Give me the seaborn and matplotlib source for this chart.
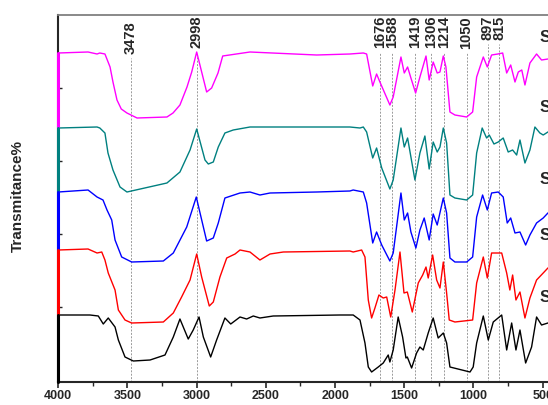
import seaborn as sns
import matplotlib.pyplot as plt
from matplotlib.ticker import MultipleLocator

# wavenumber (cm-1) / transmittance (offset, a.u.)
wn_magenta = [4000, 3785, 3720, 3700, 3663, 3626, 3605, 3576, 3545, 3504, 3431, 3215, 3171, 3121, 3070, 3036, 3000,
              2928, 2892, 2846, 2812, 2615, 2133, 1893, 1796, 1772, 1728, 1700, 1676, 1604, 1580, 1524, 1500, 1476,
              1452, 1418, 1387, 1343, 1320, 1291, 1262, 1242, 1218, 1199, 1170, 1134, 1049, 1006, 977, 929, 900, 869,
              824, 789, 760, 731, 700, 676, 651, 628, 592, 544, 508, 462, 420]
tr_magenta = [329, 330, 328, 329, 328, 315, 300, 282, 273, 269, 264, 265, 269, 277, 295, 310, 330,
              290, 294, 309, 326, 330, 327, 328, 329, 328, 296, 308, 300, 277, 285, 325, 309, 315,
              304, 289, 305, 326, 302, 320, 309, 310, 326, 315, 270, 267, 265, 270, 305, 325, 315, 327,
              328, 329, 309, 317, 300, 310, 312, 297, 319, 328, 322, 323, 323]

wn_teal = [4000, 3720, 3700, 3663, 3641, 3605, 3554, 3504, 3215, 3121, 3048, 3000, 2940, 2916, 2880, 2844, 2796, 2736,
           2615, 1893, 1820, 1796, 1772, 1728, 1700, 1663, 1604, 1580, 1524, 1500, 1476, 1452, 1423, 1387, 1351, 1320,
           1291, 1262, 1242, 1218, 1194, 1170, 1134, 1049, 1006, 977, 937, 905, 886, 852, 821, 785, 749, 717, 688, 664,
           628, 592, 556, 520, 496, 462, 420]
tr_teal = [254, 255, 254, 249, 229, 212, 195, 190, 199, 210, 232, 253, 222, 218, 220, 235, 249, 252,
           255, 255, 254, 255, 250, 224, 234, 214, 193, 202, 254, 235, 244, 225, 202, 229, 246, 213,
           240, 230, 235, 254, 239, 187, 184, 182, 187, 229, 254, 244, 247, 238, 240, 244, 230, 232, 227, 242,
           219, 232, 255, 249, 247, 250, 250]

wn_blue = [4000, 3785, 3720, 3677, 3648, 3614, 3590, 3542, 3470, 3241, 3169, 3072, 3003, 2928, 2880, 2844, 2796, 2687,
           2615, 2543, 2470, 2133, 1893, 1869, 1796, 1772, 1728, 1700, 1663, 1604, 1580, 1524, 1500, 1476, 1452, 1416,
           1387, 1356, 1320, 1291, 1262, 1218, 1194, 1170, 1134, 1049, 1006, 977, 934, 900, 869, 821, 785, 756, 731,
           700, 664, 623, 592, 544, 496, 462, 420]
tr_blue = [190, 192, 185, 182, 172, 162, 142, 125, 120, 121, 129, 155, 185, 141, 144, 159, 184, 189,
           190, 187, 189, 190, 191, 192, 190, 179, 139, 150, 137, 121, 129, 189, 162, 169, 150, 134,
           152, 164, 142, 168, 157, 184, 169, 124, 120, 120, 125, 165, 187, 172, 189, 190, 185, 159, 164,
           149, 150, 137, 147, 159, 164, 169, 172]

wn_red = [4000, 3785, 3720, 3686, 3663, 3639, 3590, 3566, 3518, 3470, 3241, 3169, 3109, 3048, 3000, 2964, 2909, 2880,
          2832, 2783, 2723, 2687, 2615, 2543, 2470, 2374, 1893, 1869, 1808, 1784, 1760, 1736, 1712, 1683, 1652, 1627,
          1598, 1567, 1531, 1502, 1478, 1442, 1399, 1367, 1343, 1327, 1295, 1266, 1242, 1218, 1194, 1175, 1134, 1006,
          977, 929, 900, 869, 796, 760, 737, 717, 693, 664, 628, 592, 544, 496, 462, 420]
tr_red = [132, 133, 129, 130, 122, 109, 92, 72, 62, 59, 60, 69, 85, 102, 128, 105, 76, 80,
          105, 124, 128, 132, 130, 122, 128, 130, 131, 130, 132, 125, 82, 64, 74, 87, 84, 85,
          65, 92, 130, 89, 90, 70, 99, 107, 115, 104, 127, 102, 94, 120, 89, 62, 60, 62,
          99, 125, 104, 129, 129, 109, 92, 107, 82, 90, 64, 84, 102, 109, 114, 116]

wn_black = [4000, 3771, 3711, 3675, 3639, 3590, 3566, 3518, 3458, 3337, 3229, 3169, 3121, 3061, 3025, 2983, 2952, 2899,
            2856, 2796, 2754, 2687, 2639, 2591, 2543, 2447, 1965, 1869, 1820, 1784, 1760, 1736, 1688, 1652, 1616, 1604,
            1580, 1544, 1512, 1488, 1478, 1447, 1411, 1387, 1363, 1327, 1291, 1255, 1218, 1194, 1170, 1025, 1002, 977,
            929, 893, 857, 796, 760, 724, 693, 664, 623, 580, 544, 508, 462, 420]
tr_black = [67, 67, 66, 58, 64, 55, 42, 25, 21, 22, 27, 45, 63, 43, 52, 65, 45, 25,
            42, 64, 58, 65, 63, 66, 64, 66, 67, 67, 62, 39, 15, 10, 15, 19, 27, 20,
            32, 65, 45, 24, 25, 14, 29, 35, 32, 49, 64, 44, 49, 39, 15, 10, 15, 39,
            66, 42, 60, 67, 32, 59, 32, 52, 19, 35, 65, 57, 59, 60]

sample_names = ['S5', 'S4', 'S3', 'S2', 'S1']
peaks = [3478, 2998, 1676, 1588, 1419, 1306, 1214, 1050, 897, 815]

sns.set_style('ticks')
plt.rcParams['font.family'] = ['Liberation Sans', 'DejaVu Sans']
plt.rcParams['font.weight'] = 'bold'

fig = plt.figure(figsize=(5.48, 4.05), dpi=100)
ax = fig.add_axes([58.3 / 548, 23 / 405, 498.2 / 548, 367 / 405])

series = [
    (wn_magenta, tr_magenta, '#FF00FF'),
    (wn_teal, tr_teal, '#008080'),
    (wn_blue, tr_blue, '#0000FF'),
    (wn_red, tr_red, '#FF0000'),
    (wn_black, tr_black, '#000000'),
]

for i, (wn, tr, col) in enumerate(series):
    sns.lineplot(x=wn, y=tr, color=col, linewidth=1.0, ax=ax, sort=False)
    # coloured step on the left axis down to the next spectrum
    low = series[i + 1][1][0] if i + 1 < len(series) else 0
    ax.plot([4000, 4000], [tr[0], low], color=col, linewidth=2.2, clip_on=False, zorder=5)

# peak guide lines + labels
for p in peaks:
    txt = str(p)
    top = 361 if p == 3478 else 366
    ax.text(p, top, txt, rotation=90, ha='center', va='top', fontsize=10.5, fontweight='bold')
    end = top - 8.8 * len(txt)
    ax.vlines(p, 0, end - 2, colors='#9a9a9a', linestyles=(0, (2, 1.5)), linewidth=0.7, zorder=0)

# sample labels (cut at the right edge as in the original)
label_y = [344, 275, 202, 147, 84]
for name, yy in zip(sample_names, label_y):
    ax.text(520, yy, name, ha='left', va='center', fontsize=12, fontweight='bold')

ax.set_xlim(4000, 400)
ax.set_ylim(0, 367)
ax.xaxis.set_major_locator(MultipleLocator(500))
ax.xaxis.set_minor_locator(MultipleLocator(250))
ax.set_yticks([75, 148, 221, 294])
ax.set_yticklabels([])
ax.tick_params(axis='x', which='major', direction='out', length=4, width=1.2, labelsize=9, pad=2)
ax.tick_params(axis='x', which='minor', direction='out', length=3, width=1.0)
ax.tick_params(axis='y', direction='in', length=3, width=1.0)
for lab in ax.get_xticklabels():
    lab.set_fontweight('bold')

ax.spines['top'].set_color('#808080')
ax.spines['top'].set_linewidth(1.3)
ax.spines['left'].set_linewidth(1.5)
ax.spines['bottom'].set_linewidth(1.5)
ax.spines['right'].set_visible(False)

ax.set_xlabel('')
ax.set_ylabel('Transmitance%', fontsize=11, fontweight='bold')
ax.yaxis.set_label_coords(-0.067, 0.507)

plt.savefig('out.png', dpi=100)
